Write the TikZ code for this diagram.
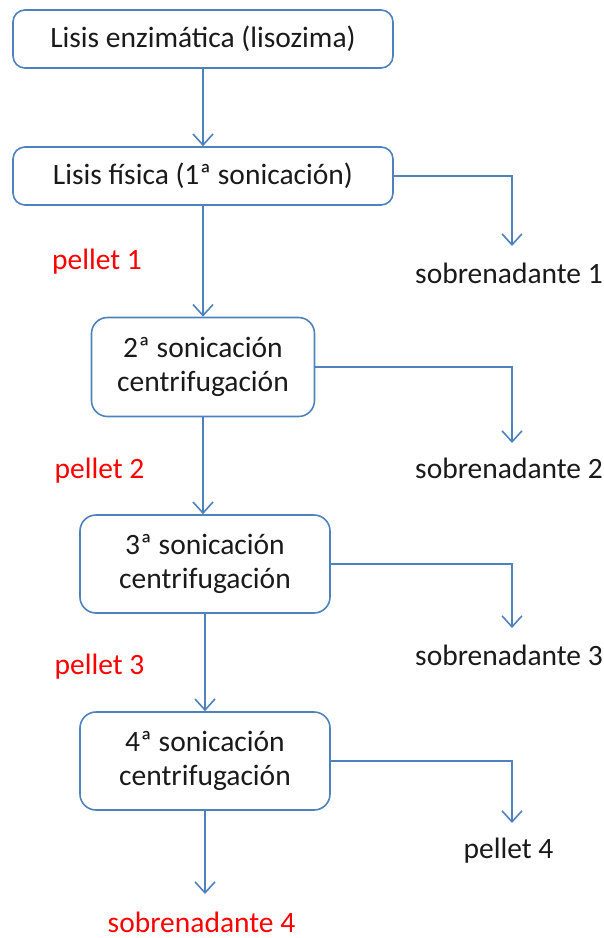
\documentclass[tikz,border=0pt]{standalone}
\usepackage{fontspec}
\setmainfont{Carlito}
\usetikzlibrary{arrows.meta}
\definecolor{bl}{HTML}{4F81BD}
\definecolor{rd}{HTML}{FF0000}
\definecolor{tx}{HTML}{1A1A1A}
\begin{document}
\begin{tikzpicture}[x=1pt,y=-1pt,
  font=\fontsize{29.5}{34}\selectfont,
  box/.style={draw=bl, line width=1.6pt, rounded corners=12pt, fill=white,
    align=center, inner sep=0pt, text=tx},
  conn/.style={draw=bl, line width=1.6pt, -{Straight Barb[length=11pt,width=20pt,line width=1.6pt]}},
  lab/.style={inner sep=0pt, text=tx, anchor=base},
  redlab/.style={inner sep=0pt, text=rd, anchor=base}]
\useasboundingbox (0,0) rectangle (604,938);
\node[box, minimum width=380pt, minimum height=58pt] (b1) at (203,39) {Lisis enzimática (lisozima)};
\node[box, minimum width=380pt, minimum height=58pt] (b2) at (203,176) {Lisis física (1ª sonicación)};
\node[box, minimum width=223pt, minimum height=99pt, rounded corners=16pt] (b3) at (203,367) {2ª sonicación\\centrifugación};
\node[box, minimum width=250pt, minimum height=98pt, rounded corners=16pt] (b4) at (205,564) {3ª sonicación\\centrifugación};
\node[box, minimum width=250pt, minimum height=98pt, rounded corners=16pt] (b5) at (205,761) {4ª sonicación\\centrifugación};
\node[lab] (s1) at (509,283) {sobrenadante 1};
\node[lab] (s2) at (509,478) {sobrenadante 2};
\node[lab] (s3) at (509,665) {sobrenadante 3};
\node[lab] (p4) at (508.5,858) {pellet 4};
\node[redlab] (p1) at (97,269) {pellet 1};
\node[redlab] (p2) at (99.5,478) {pellet 2};
\node[redlab] (p3) at (99.5,674) {pellet 3};
\node[redlab] (s4) at (201.5,932) {sobrenadante 4};
\coordinate (e1) at (512,246);
\coordinate (e2) at (512,443);
\coordinate (e3) at (512,628);
\coordinate (e4) at (512,823);
\coordinate (e5) at (205,894);
\draw[conn] (b1.south) -- (b2.north);
\draw[conn] (b2.south) -- (b2.south |- b3.north);
\draw[conn] (b3.south) -- (b3.south |- b4.north);
\draw[conn] (b4.south) -- (b5.north);
\draw[conn] (b5.south) -- (e5);
\draw[conn] (b2.east) -| (e1);
\draw[conn] (b3.east) -| (e2);
\draw[conn] (b4.east) -| (e3);
\draw[conn] (b5.east) -| (e4);
\end{tikzpicture}
\end{document}
